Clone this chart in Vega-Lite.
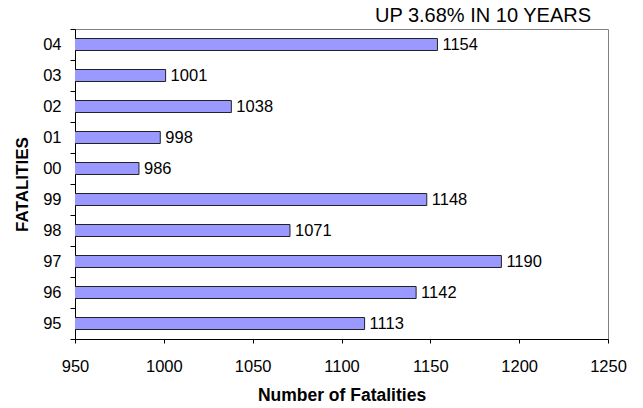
{
  "$schema": "https://vega.github.io/schema/vega-lite/v6.json",
  "autosize": {"type": "none"},
  "width": 533,
  "height": 310,
  "padding": {"left": 75, "top": 29, "right": 35, "bottom": 69},
  "background": "white",
  "config": {
    "font": "Liberation Sans",
    "view": {"stroke": "#808080", "strokeWidth": 1}
  },
  "title": {
    "text": "UP 3.68% IN 10 YEARS",
    "anchor": "end",
    "frame": "group",
    "fontSize": 20,
    "fontWeight": "normal",
    "color": "black",
    "dx": -17,
    "dy": 11,
    "offset": 6
  },
  "data": {
    "values": [
      {"year": "04", "fatalities": 1154},
      {"year": "03", "fatalities": 1001},
      {"year": "02", "fatalities": 1038},
      {"year": "01", "fatalities": 998},
      {"year": "00", "fatalities": 986},
      {"year": "99", "fatalities": 1148},
      {"year": "98", "fatalities": 1071},
      {"year": "97", "fatalities": 1190},
      {"year": "96", "fatalities": 1142},
      {"year": "95", "fatalities": 1113}
    ]
  },
  "encoding": {
    "y": {
      "field": "year",
      "type": "nominal",
      "sort": null,
      "scale": {"paddingInner": 0, "paddingOuter": 0},
      "axis": {
        "title": "FATALITIES",
        "titleFontSize": 17,
        "titleFontWeight": "bold",
        "titleColor": "black",
        "titlePadding": 11,
        "labelFontSize": 16.5,
        "labelColor": "black",
        "labelPadding": 9,
        "tickSize": 5,
        "tickColor": "black",
        "domainColor": "black",
        "tickBand": "extent",
        "labelAngle": 0
      }
    },
    "x": {
      "field": "fatalities",
      "type": "quantitative",
      "scale": {"domain": [950, 1250], "nice": false, "zero": false},
      "axis": {
        "title": "Number of Fatalities",
        "titleFontSize": 17.5,
        "titleFontWeight": "bold",
        "titleColor": "black",
        "titlePadding": 12,
        "values": [950, 1000, 1050, 1100, 1150, 1200, 1250],
        "format": "d",
        "labelFontSize": 16.5,
        "labelColor": "black",
        "labelPadding": 15,
        "tickSize": 4,
        "tickColor": "black",
        "domainColor": "black",
        "grid": false,
        "labelFlush": false
      }
    }
  },
  "layer": [
    {
      "mark": {"type": "bar", "size": 12, "fill": "#9999FF", "stroke": "#222222", "strokeWidth": 1, "clip": true},
      "encoding": {}
    },
    {
      "mark": {"type": "text", "align": "left", "baseline": "middle", "dx": 5, "fontSize": 16.5, "color": "black"},
      "encoding": {"text": {"field": "fatalities", "type": "quantitative", "format": "d"}}
    }
  ]
}
